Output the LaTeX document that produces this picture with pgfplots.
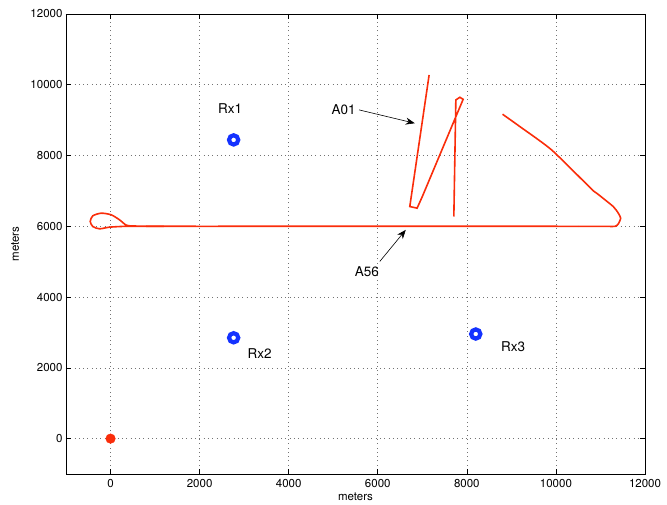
\documentclass[border=0pt]{standalone}
\usepackage{pgfplots}
\pgfplotsset{compat=1.18}
\usepackage{fontspec}
\setmainfont{TeX Gyre Heros}
\usetikzlibrary{arrows.meta}
\definecolor{trk}{RGB}{250,45,10}
\definecolor{rx}{RGB}{20,50,255}
\begin{document}
\begin{tikzpicture}
\begin{axis}[
  name=ax,
  scale only axis, width=579pt, height=460pt,
  xmin=-1000, xmax=12000, ymin=-1000, ymax=12000,
  xtick={0,2000,...,12000}, ytick={0,2000,...,12000},
  scaled ticks=false,
  /pgf/number format/1000 sep={},
  /pgf/number format/assume math mode=true,
  tick label style={font=\fontsize{11.5}{13}\selectfont},
  xticklabel style={yshift=-2pt},
  yticklabel style={xshift=0pt},
  tick align=inside, major tick length=5pt,
  tick style={black, line width=0.6pt},
  grid=major,
  major grid style={black!55, dash pattern=on 0.7pt off 3.6pt, line width=0.55pt},
  axis line style={line width=0.9pt},
  xlabel={meters}, ylabel={meters},
  label style={font=\fontsize{11.5}{13}\selectfont},
  xlabel style={at={(axis description cs:0.5,-0.049)}, anchor=center},
  ylabel style={at={(axis description cs:-0.088,0.5)}, anchor=center},
  clip=false,
]
% track: right turn, long east-west leg, loop at west end
\addplot[trk, line width=1.6pt, smooth, tension=0.35, no markers] coordinates {
  (8802,9167) (9191,8818) (9903,8159) (10802,7049) (10915,6936)
  (11288,6558) (11401,6370) (11454,6231) (11401,6070) (11326,5998)
  (11000,6000) (10500,6000)
};
\addplot[trk, line width=1.6pt, no markers] coordinates {
  (10500,6000) (6000,6002) (2000,6000) (800,6003)
};
\addplot[trk, line width=1.6pt, smooth, tension=0.45, no markers] coordinates {
  (800,6003) (500,6010) (352,6033) (202,6183) (15,6324) (-209,6371) (-398,6296)
  (-456,6136) (-398,5994) (-247,5929) (-22,5976) (352,6000) (800,6000) (1200,6000)
};
% A01 track
\addplot[trk, line width=1.6pt, no markers] coordinates {
  (7153,10277) (6719,6559) (6883,6513) (6950,6700) (7000,6840) (7917,9589)
  (7843,9646) (7753,9571) (7708,6277)
};
% receivers
\addplot[only marks, mark=o, mark size=4.6pt, mark options={draw=rx, line width=4.2pt}] coordinates {
  (2764,8442) (2764,2850) (8200,2956)
};
% origin
\addplot[only marks, mark=*, mark size=4.8pt, mark options={draw=trk, fill=trk}] coordinates {(0,0)};
% labels
\node[font=\fontsize{13.5}{15}\selectfont] at (axis cs:2685,9336) {Rx1};
\node[font=\fontsize{13.5}{15}\selectfont] at (axis cs:3348,2400) {Rx2};
\node[font=\fontsize{13.5}{15}\selectfont] at (axis cs:9040,2606) {Rx3};
\node[font=\fontsize{13.5}{15}\selectfont] at (axis cs:5236,9289) {A01};
\node[font=\fontsize{13.5}{15}\selectfont] at (axis cs:5753,4724) {A56};
\draw[line width=0.6pt, -{Stealth[length=9pt, width=7pt]}] (axis cs:5580,9290) -- (axis cs:6831,8913);
\draw[line width=0.6pt, -{Stealth[length=9pt, width=7pt]}] (axis cs:6045,5006) -- (axis cs:6629,5900);
\end{axis}
\pgfresetboundingbox
\path[use as bounding box] ([xshift=-66pt,yshift=-30pt]ax.south west) rectangle ([xshift=22pt,yshift=14pt]ax.north east);
\end{tikzpicture}
\end{document}
